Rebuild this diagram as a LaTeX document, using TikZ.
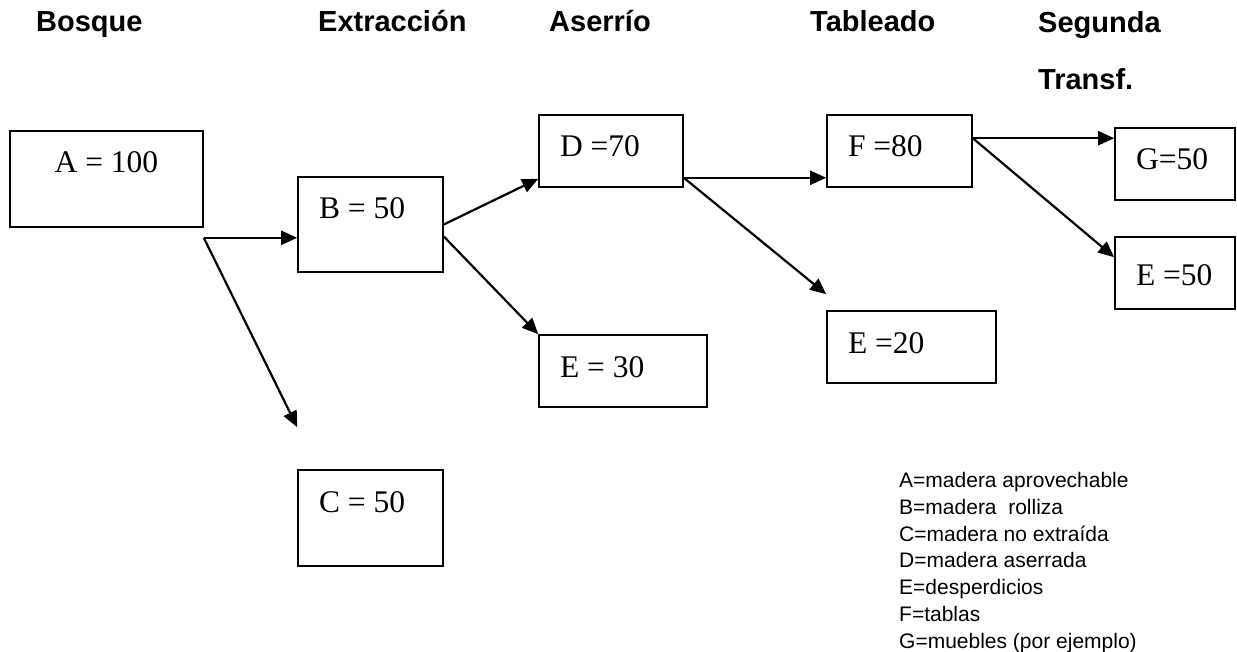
\documentclass[tikz,border=0pt]{standalone}
\usepackage{fontspec}
\setmainfont{Liberation Serif}
\newfontfamily\arial{Liberation Sans}
\usetikzlibrary{positioning,arrows.meta}

\begin{document}
\begin{tikzpicture}[x=1pt, y=-1pt, on grid,
    >={Triangle[length=16pt,width=14pt]},
    caja/.style={draw, line width=1.6pt, inner xsep=21pt, inner ysep=0pt,
      align=flush left, text height=42pt, font=\fontsize{31.5}{36}\selectfont},
    flecha/.style={->, line width=2.2pt},
    etapa/.style={anchor=base west, inner sep=0pt,
      font=\arial\bfseries\fontsize{29}{34}\selectfont},
    leyenda/.style={anchor=north west, inner sep=0pt, align=left,
      font=\arial\fontsize{21}{26.8}\selectfont}
  ]
  \useasboundingbox (0,0) rectangle (1237,652);
  % etapas
  \node[etapa] (bosque)     at (36,32)   {Bosque};
  \node[etapa] (extraccion) at (318,32)  {Extracción};
  \node[etapa] (aserrio)    at (549,32)  {Aserrío};
  \node[etapa] (tableado)   at (810,32)  {Tableado};
  \node[etapa] (segunda)    at (1038,33) {Segunda};
  \node[etapa] (transf)     at (1038,90) {Transf.};

  % cajas
  \node[caja, align=flush center, text width=151pt, text depth=54pt] (A) at (106.5,179) {A = 100};
  \node[caja, text width=103pt, text depth=53pt] (B) [below right=45.5pt and 264pt of A] {B = 50};
  \node[caja, text width=103pt, text depth=54pt] (C) [below=293.5pt of B] {C = 50};
  \node[caja, text width=102pt, text depth=30pt] (D) [above right=73.5pt and 240.5pt of B] {D =70};
  \node[caja, text width=126pt, text depth=30pt] (E_30) [below right=220pt and 12pt of D] {E = 30};
  \node[caja, text width=103pt, text depth=30pt] (F) [right=288.5pt of D] {F =80};
  \node[caja, text width=127pt, text depth=30pt] (E_20) [below right=196pt and 12pt of F] {E =20};
  \node[caja, text width=78pt, text depth=30pt] (G) [below right=13pt and 275.5pt of F] {G=50};
  \node[caja, text width=78pt, text height=49pt, text depth=23pt] (E_50) [below=109pt of G] {E =50};

  % flechas
  \coordinate (bifurca) at ([yshift=-10pt]A.south east);
  \coordinate (haciaC) at ([yshift=42pt]C.north west);
  \draw[flecha] (bifurca) -- (bifurca -| B.west);
  \draw[flecha] (bifurca) -- (haciaC);
  \draw[flecha] (B.east) -- ([yshift=9pt]D.south west);
  \draw[flecha] ([yshift=-12pt]B.east) -- (E_30.north west);
  \coordinate (salidaD) at ([yshift=10pt]D.south east);
  \draw[flecha] (salidaD) -- (salidaD -| F.west);
  \draw[flecha] (salidaD) -- ([yshift=16pt]E_20.north west);
  \coordinate (salidaF) at ([yshift=-24pt]F.north east);
  \draw[flecha] (salidaF) -- (salidaF -| G.west);
  \draw[flecha] (salidaF) -- ([yshift=-21pt]E_50.north west);

  % leyenda
  \node[leyenda] (ley) at (899,472) {A=madera aprovechable\\
    B=madera~ rolliza\\
    C=madera no extraída\\
    D=madera aserrada\\
    E=desperdicios\\
    F=tablas\\
    G=muebles (por ejemplo)};
\end{tikzpicture}
\end{document}
